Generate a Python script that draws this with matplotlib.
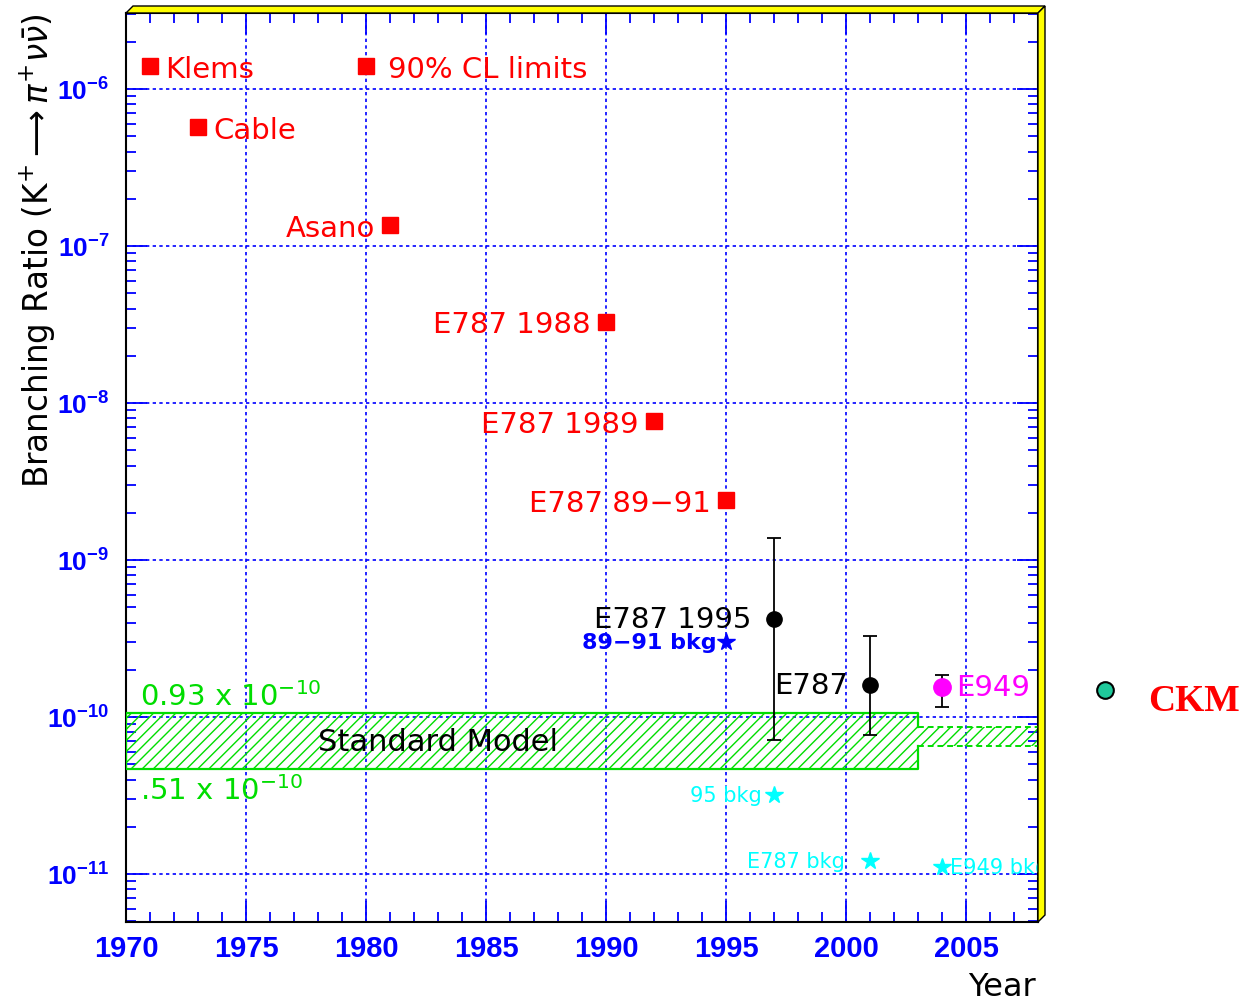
import numpy as np
import matplotlib
matplotlib.use('Agg')
import matplotlib.pyplot as plt
from matplotlib.patches import Polygon
from matplotlib.ticker import MultipleLocator, FixedLocator, FuncFormatter, NullFormatter

plt.rcParams['font.family'] = ['DejaVu Sans']
plt.rcParams['mathtext.fontset'] = 'custom'
plt.rcParams['mathtext.rm'] = 'DejaVu Sans'
plt.rcParams['mathtext.it'] = 'DejaVu Sans:italic'
plt.rcParams['mathtext.bf'] = 'Liberation Sans:bold'
plt.rcParams['hatch.linewidth'] = 1.0

# 90% CL limits (red squares)
limit_years = [1971, 1973, 1981, 1990, 1992, 1995]
limit_values = [1.40e-6, 5.7e-7, 1.36e-7, 3.3e-8, 7.7e-9, 2.4e-9]
limit_labels = ['Klems', 'Cable', 'Asano', 'E787 1988', 'E787 1989', 'E787 89\u221291']
limit_label_right = [True, True, False, False, False, False]
key_year = 1980
key_value = 1.40e-6

# measurements with errors
meas_years = [1997, 2001]
meas_values = [4.2e-10, 1.6e-10]
meas_upper = [1.38e-9, 3.3e-10]
meas_lower = [7.1e-11, 7.7e-11]
meas_labels = ['E787 1995', 'E787']

e949_year = 2004
e949_value = 1.55e-10
e949_upper = 1.85e-10
e949_lower = 1.16e-10

# expected backgrounds (stars)
bkg_years = [1995, 1997, 2001, 2004]
bkg_values = [3.0e-10, 3.2e-11, 1.21e-11, 1.11e-11]
bkg_labels = ['89\u221291 bkg', '95 bkg', 'E787 bkg', 'E949 bkg']
bkg_colors = ['blue', 'cyan', 'cyan', 'cyan']

# Standard Model band
sm_years = [1970, 2003]
sm_low = [0.465e-10, 0.465e-10]
sm_high = [1.06e-10, 1.06e-10]
sm_future_years = [2003, 2008]
sm_future_low = [0.65e-10, 0.65e-10]
sm_future_high = [0.86e-10, 0.86e-10]

ckm_year = 2010.8
ckm_value = 1.49e-10

decades = [1e-11, 1e-10, 1e-9, 1e-8, 1e-7, 1e-6]

W, H = 1245, 1003
fig = plt.figure(figsize=(W / 100, H / 100), dpi=100)
L, R, T, B = 126, 1038, 14, 923
ax = fig.add_axes([L / W, 1 - B / H, (R - L) / W, (B - T) / H])

ax.set_xlim(1970, 2008)
ax.set_yscale('log')
ax.set_ylim(4.95e-12, 3.05e-6)

green = '#00dd00'
ax.fill_between(sm_years, sm_low, sm_high, facecolor='none', edgecolor=green,
                hatch='///', linewidth=0, zorder=2)
ax.fill_between(sm_future_years, sm_future_low, sm_future_high, facecolor='none',
                edgecolor=green, hatch='///', linewidth=0, zorder=2)
# outline of the band, open where the future band joins it
x0, x1 = sm_years
ax.plot([x1, x1, x0, x0, x1, x1],
        [sm_future_high[0], sm_high[1], sm_high[0], sm_low[0], sm_low[1], sm_future_low[0]],
        color=green, lw=1.6, zorder=3)
ax.plot(sm_future_years, sm_future_high, color=green, lw=1.4, ls=(0, (3, 2)), zorder=3)
ax.plot(sm_future_years, sm_future_low, color=green, lw=1.4, ls=(0, (3, 2)), zorder=3)
ax.text(1978.0, 0.7e-10, 'Standard Model', fontsize=22, color='black', va='center', zorder=5)
ax.text(1970.6, 1.2e-10, r'0.93 x 10$^{-10}$', fontsize=21, color=green, va='baseline')
ax.text(1970.6, 0.3e-10, r'.51 x 10$^{-10}$', fontsize=21, color=green, va='baseline')

# limits
ax.plot(limit_years, limit_values, 's', color='red', ms=12, linestyle='none', zorder=4)
for yr, val, lab, right in zip(limit_years, limit_values, limit_labels, limit_label_right):
    ax.annotate(lab, (yr, val), xytext=(11 if right else -11, -2), textcoords='offset points',
                ha='left' if right else 'right', va='center', color='red', fontsize=21)
ax.plot([key_year], [key_value], 's', color='red', ms=12, zorder=4)
ax.annotate('90% CL limits', (key_year, key_value), xytext=(16, -2), textcoords='offset points',
            ha='left', va='center', color='red', fontsize=21)

# measurements
yerr = [np.array(meas_values) - np.array(meas_lower), np.array(meas_upper) - np.array(meas_values)]
ax.errorbar(meas_years, meas_values, yerr=yerr, fmt='o', color='black', ms=11,
            capsize=5, elinewidth=1.3, capthick=1.3, zorder=5)
for yr, val, lab in zip(meas_years, meas_values, meas_labels):
    ax.annotate(lab, (yr, val), xytext=(-16, 0), textcoords='offset points',
                ha='right', va='center', color='black', fontsize=21)
ax.errorbar([e949_year], [e949_value],
            yerr=[[e949_value - e949_lower], [e949_upper - e949_value]],
            fmt='none', ecolor='black', capsize=5, elinewidth=1.3, capthick=1.3, zorder=5)
ax.plot([e949_year], [e949_value], 'o', color='magenta', ms=12.5, zorder=6)
ax.annotate('E949', (e949_year, e949_value), xytext=(10, 0), textcoords='offset points',
            ha='left', va='center', color='magenta', fontsize=21)

# backgrounds
for yr, val, lab, col in zip(bkg_years, bkg_values, bkg_labels, bkg_colors):
    ax.plot([yr], [val], '*', color=col, ms=13, zorder=5)
    if lab.startswith('E949'):
        ax.annotate(lab, (yr, val), xytext=(6, 0), textcoords='offset points', ha='left',
                    va='center', color=col, fontsize=15, annotation_clip=False, clip_on=True)
    elif col == 'blue':
        ax.annotate(lab, (yr, val), xytext=(-7, 0), textcoords='offset points', ha='right',
                    va='center', color=col, fontsize=16, weight='bold')
    else:
        gap = -18 if lab.startswith('E787') else -9
        ax.annotate(lab, (yr, val), xytext=(gap, 0), textcoords='offset points', ha='right',
                    va='center', color=col, fontsize=15)

# CKM marker outside the frame
ax.plot([ckm_year], [ckm_value], 'o', mfc='#1fc99b', mec='black', mew=1.5, ms=12, clip_on=False)
ax.text(2012.6, 1.27e-10, 'CKM', family=['Liberation Serif', 'DejaVu Serif'], weight='bold',
        color='red', fontsize=27, va='center', clip_on=False)

# axes, ticks, grid
ax.xaxis.set_major_locator(MultipleLocator(5))
ax.xaxis.set_minor_locator(MultipleLocator(1))
ax.yaxis.set_major_locator(FixedLocator(decades))
minor = [m * d for d in [1e-12] + decades for m in range(2, 10)]
ax.yaxis.set_minor_locator(FixedLocator(minor))
ax.yaxis.set_minor_formatter(NullFormatter())
ax.yaxis.set_major_formatter(FuncFormatter(lambda v, p: r'$\mathbf{10^{%d}}$' % round(np.log10(v))))
ax.xaxis.set_major_formatter(FuncFormatter(lambda v, p: '%d' % v))
ax.tick_params(which='both', direction='in', top=True, right=True, color='blue', width=1.3)
ax.tick_params(which='major', length=15)
ax.tick_params(which='minor', length=7.5)
ax.tick_params(axis='x', labelsize=21, labelcolor='blue', pad=9)
ax.tick_params(axis='y', labelsize=19, labelcolor='blue', pad=12)
for lab in ax.get_xticklabels():
    lab.set_fontweight('bold')
    lab.set_fontfamily('Liberation Sans')
ax.grid(True, which='major', color='blue', linestyle=(0, (2, 2)), linewidth=1.2)
ax.set_axisbelow(True)
for sp in ax.spines.values():
    sp.set_color('black')
    sp.set_linewidth(1.5)

fig.text(38 / W, 1 - 14 / H, r'Branching Ratio (K$^{+}\longrightarrow\pi^{+}\nu\bar{\nu}$)',
         rotation=90, ha='center', va='top', fontsize=23.5)
fig.text(1036 / W, 1 - 996 / H, 'Year', ha='right', va='baseline', fontsize=23)

# yellow 3D border
d = 7
top = [(L, T), (L + d, T - d), (R + d, T - d), (R, T)]
right = [(R, T), (R + d, T - d), (R + d, B - d), (R, B)]
for pts in (top, right):
    fig.patches.append(Polygon([(x / W, 1 - y / H) for x, y in pts], closed=True,
                               transform=fig.transFigure, facecolor='yellow',
                               edgecolor='black', linewidth=1))

fig.savefig('out.png', dpi=100)
